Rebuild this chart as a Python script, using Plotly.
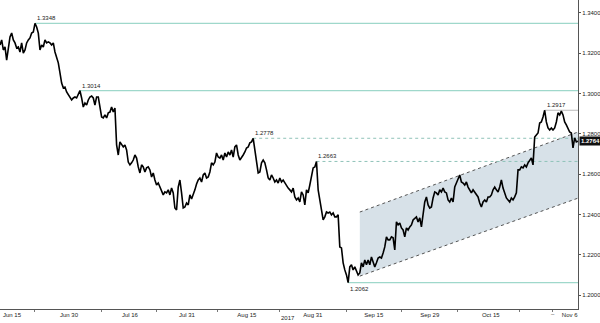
import plotly.graph_objects as go

price = [
 1.3241,1.3266,1.3216,1.3231,1.3166,1.3226,1.3281,1.3300,1.3266,1.3251,
 1.3226,1.3231,1.3206,1.3251,1.3201,1.3216,1.3251,1.3266,1.3276,1.3300,
 1.3305,1.3348,1.3330,1.3300,1.3216,1.3241,1.3231,1.3266,1.3251,1.3256,
 1.3251,1.3241,1.3251,1.3206,1.3181,1.3152,1.3102,1.3052,1.3028,1.3032,
 1.3008,1.2993,1.2978,1.2968,1.2978,1.2983,1.2978,1.2993,1.3014,1.2978,
 1.2933,1.2953,1.2943,1.2968,
 1.2983,1.2988,1.2978,1.2943,1.2983,1.2983,1.2933,1.2884,1.2879,1.2894,
 1.2879,1.2904,1.2908,1.2933,1.2908,1.2928,1.2745,1.2695,1.2760,1.2745,
 1.2735,1.2745,1.2720,1.2660,1.2646,1.2656,1.2670,1.2695,1.2680,1.2636,
 1.2606,1.2646,1.2636,1.2611,1.2631,1.2636,1.2621,1.2586,1.2606,1.2571,
 1.2546,1.2556,1.2536,1.2522,1.2497,1.2512,1.2507,1.2522,1.2497,1.2531,
 1.2507,1.2432,1.2422,1.2536,1.2571,1.2507,1.2432,1.2437,1.2457,1.2447,
 1.2497,1.2477,1.2497,1.2522,1.2551,1.2571,1.2581,1.2561,1.2596,1.2606,
 1.2581,1.2586,1.2611,1.2656,1.2646,1.2660,1.2705,1.2685,1.2680,1.2695,
 1.2670,1.2705,1.2685,1.2710,1.2695,1.2720,1.2685,1.2735,1.2745,1.2695,
 1.2670,1.2680,1.2695,1.2710,1.2730,1.2735,1.2755,1.2760,1.2778,1.2720,
 1.2670,1.2606,1.2611,1.2656,1.2670,1.2656,1.2621,1.2581,1.2571,1.2596,
 1.2581,1.2561,1.2571,1.2556,1.2581,1.2561,1.2571,1.2556,1.2546,1.2531,
 1.2522,1.2512,1.2531,1.2487,1.2472,1.2482,1.2462,1.2512,1.2497,1.2447,
 1.2522,1.2507,1.2546,1.2586,1.2631,1.2636,1.2663,1.2522,1.2472,1.2432,
 1.2373,1.2388,1.2412,1.2407,1.2412,1.2398,1.2407,1.2388,1.2388,1.2398,
 1.2239,1.2234,1.2160,1.2125,1.2100,1.2062,1.2140,1.2150,1.2125,1.2140,
 1.2115,1.2100,1.2110,1.2160,1.2140,1.2174,1.2150,1.2174,1.2150,1.2189,
 1.2164,1.2140,1.2160,1.2184,1.2189,1.2184,1.2209,1.2239,1.2289,1.2274,
 1.2274,1.2289,1.2284,1.2224,1.2363,1.2348,1.2358,1.2333,1.2323,1.2289,
 1.2333,1.2323,1.2338,1.2348,1.2373,1.2383,1.2388,1.2363,1.2383,1.2338,
 1.2412,1.2462,1.2487,1.2447,1.2432,1.2437,1.2482,1.2512,1.2507,1.2497,
 1.2522,1.2512,1.2531,1.2512,1.2507,1.2472,1.2462,1.2482,1.2462,1.2536,
 1.2556,1.2581,1.2596,1.2561,1.2556,1.2546,1.2561,1.2536,1.2522,1.2507,
 1.2522,1.2512,1.2497,1.2487,1.2457,1.2437,1.2462,1.2472,1.2462,1.2487,
 1.2487,1.2497,1.2522,1.2536,1.2522,1.2512,1.2536,1.2571,1.2531,1.2507,
 1.2482,1.2472,1.2462,1.2482,1.2472,1.2487,1.2507,1.2621,1.2621,1.2636,
 1.2631,1.2646,1.2636,1.2656,1.2670,1.2680,1.2646,1.2784,1.2794,1.2804,
 1.2854,1.2859,1.2884,1.2917,1.2859,1.2829,1.2819,1.2829,1.2819,1.2829,
 1.2859,1.2904,1.2894,1.2913,1.2894,1.2859,1.2844,1.2829,1.2809,1.2804,
 1.2730,1.2780,1.2760,1.2764,
]
bars = list(range(len(price)))

# Key levels: (value, starting bar, style)
level_values = [1.3348, 1.3014, 1.2778, 1.2663, 1.2062, 1.2917]
level_start = [21, 48, 152, 190, 209, 327]
level_kind = ["solid", "solid", "dash", "dash", "solid_below", "gray"]

# Channel (bar index, upper, lower)
chan_bars = [216, 347]
chan_upper = [1.2412, 1.2809]
chan_lower = [1.2094, 1.2481]

xtick_pos = [7.2, 41.4, 78, 112.2, 148.2, 187.8, 224.4, 258, 294.6, 342]
xtick_text = ["Jun 15", "Jun 30", "Jul 16", "Jul 31", "Aug 15", "Aug 31",
              "Sep 15", "Sep 29", "Oct 15", "Nov 6"]
xminor_pos = [21, 61.2, 94.2, 130.8, 168, 208.2, 241.2, 274.8, 312, 331.8]
ytick_vals = [1.20, 1.22, 1.24, 1.26, 1.28, 1.30, 1.32, 1.34]
last_price = 1.2764
XEND = 347

TEAL = "#9fd8cb"
fig = go.Figure()

# channel fill
fig.add_trace(go.Scatter(
    x=[chan_bars[0], chan_bars[1], chan_bars[1], chan_bars[0], chan_bars[0]],
    y=[chan_upper[0], chan_upper[1], chan_lower[1], chan_lower[0], chan_upper[0]],
    fill="toself", fillcolor="#d7e1e8", line=dict(width=0), mode="lines",
    hoverinfo="skip", showlegend=False))
for ys in (chan_upper, chan_lower):
    fig.add_trace(go.Scatter(x=chan_bars, y=ys, mode="lines",
                             line=dict(color="#555555", width=1, dash="3px,3px"),
                             showlegend=False, hoverinfo="skip"))

annotations = []
for v, s, k in zip(level_values, level_start, level_kind):
    if k == "dash":
        ln = dict(color="#8fc2b8", width=1, dash="3px,3px")
    elif k == "gray":
        ln = dict(color="#bbbbbb", width=1)
    else:
        ln = dict(color=TEAL, width=1.2)
    fig.add_trace(go.Scatter(x=[s, XEND], y=[v, v], mode="lines", line=ln,
                             showlegend=False, hoverinfo="skip"))
    annotations.append(dict(
        x=s, y=v, xref="x", yref="y", text=f"{v:.4f}", showarrow=False,
        xanchor="left", yanchor="top" if k == "solid_below" else "bottom",
        yshift=-1 if k == "solid_below" else 0,
        font=dict(size=6, color="#222222", family="Liberation Sans")))

fig.add_trace(go.Scatter(x=bars, y=price, mode="lines",
                         line=dict(color="#000000", width=1.6),
                         showlegend=False))

annotations.append(dict(x=1.0, y=last_price, xref="paper", yref="y",
                        text="<b>1.2764</b>", showarrow=False, xanchor="left",
                        xshift=1, bgcolor="#111111", borderpad=1,
                        font=dict(size=6, color="#ffffff", family="Liberation Sans")))
annotations.append(dict(x=172.8, y=-0.03, xref="x", yref="paper", text="2017",
                        showarrow=False, yanchor="middle",
                        font=dict(size=6, color="#222222", family="Liberation Sans")))
annotations.append(dict(x=331.8, y=-0.016, xref="x", yref="paper", text="–",
                        showarrow=False, yanchor="middle",
                        font=dict(size=6, color="#444444", family="Liberation Sans")))

fig.update_layout(
    width=600, height=323,
    margin=dict(l=0, r=22, t=0, b=14),
    paper_bgcolor="white", plot_bgcolor="white",
    annotations=annotations,
    xaxis=dict(range=[0, XEND], showgrid=False, zeroline=False,
               showline=True, linecolor="#555555", linewidth=1,
               tickmode="array", tickvals=xtick_pos, ticktext=xtick_text,
               ticks="", tickfont=dict(size=6, color="#222222", family="Liberation Sans"),
               minor=dict(tickmode="array", tickvals=xminor_pos, ticks="outside",
                          ticklen=2, tickcolor="#777777", showgrid=False)),
    yaxis=dict(range=[1.1931, 1.3464], side="right", showgrid=False,
               zeroline=False, showline=True, linecolor="#555555", linewidth=1,
               tickmode="array", tickvals=ytick_vals,
               ticktext=[f"{t:.4f}" for t in ytick_vals],
               ticks="outside", ticklen=2, tickcolor="#555555",
               tickfont=dict(size=6, color="#222222", family="Liberation Sans")),
)

fig.write_html("out.html")
